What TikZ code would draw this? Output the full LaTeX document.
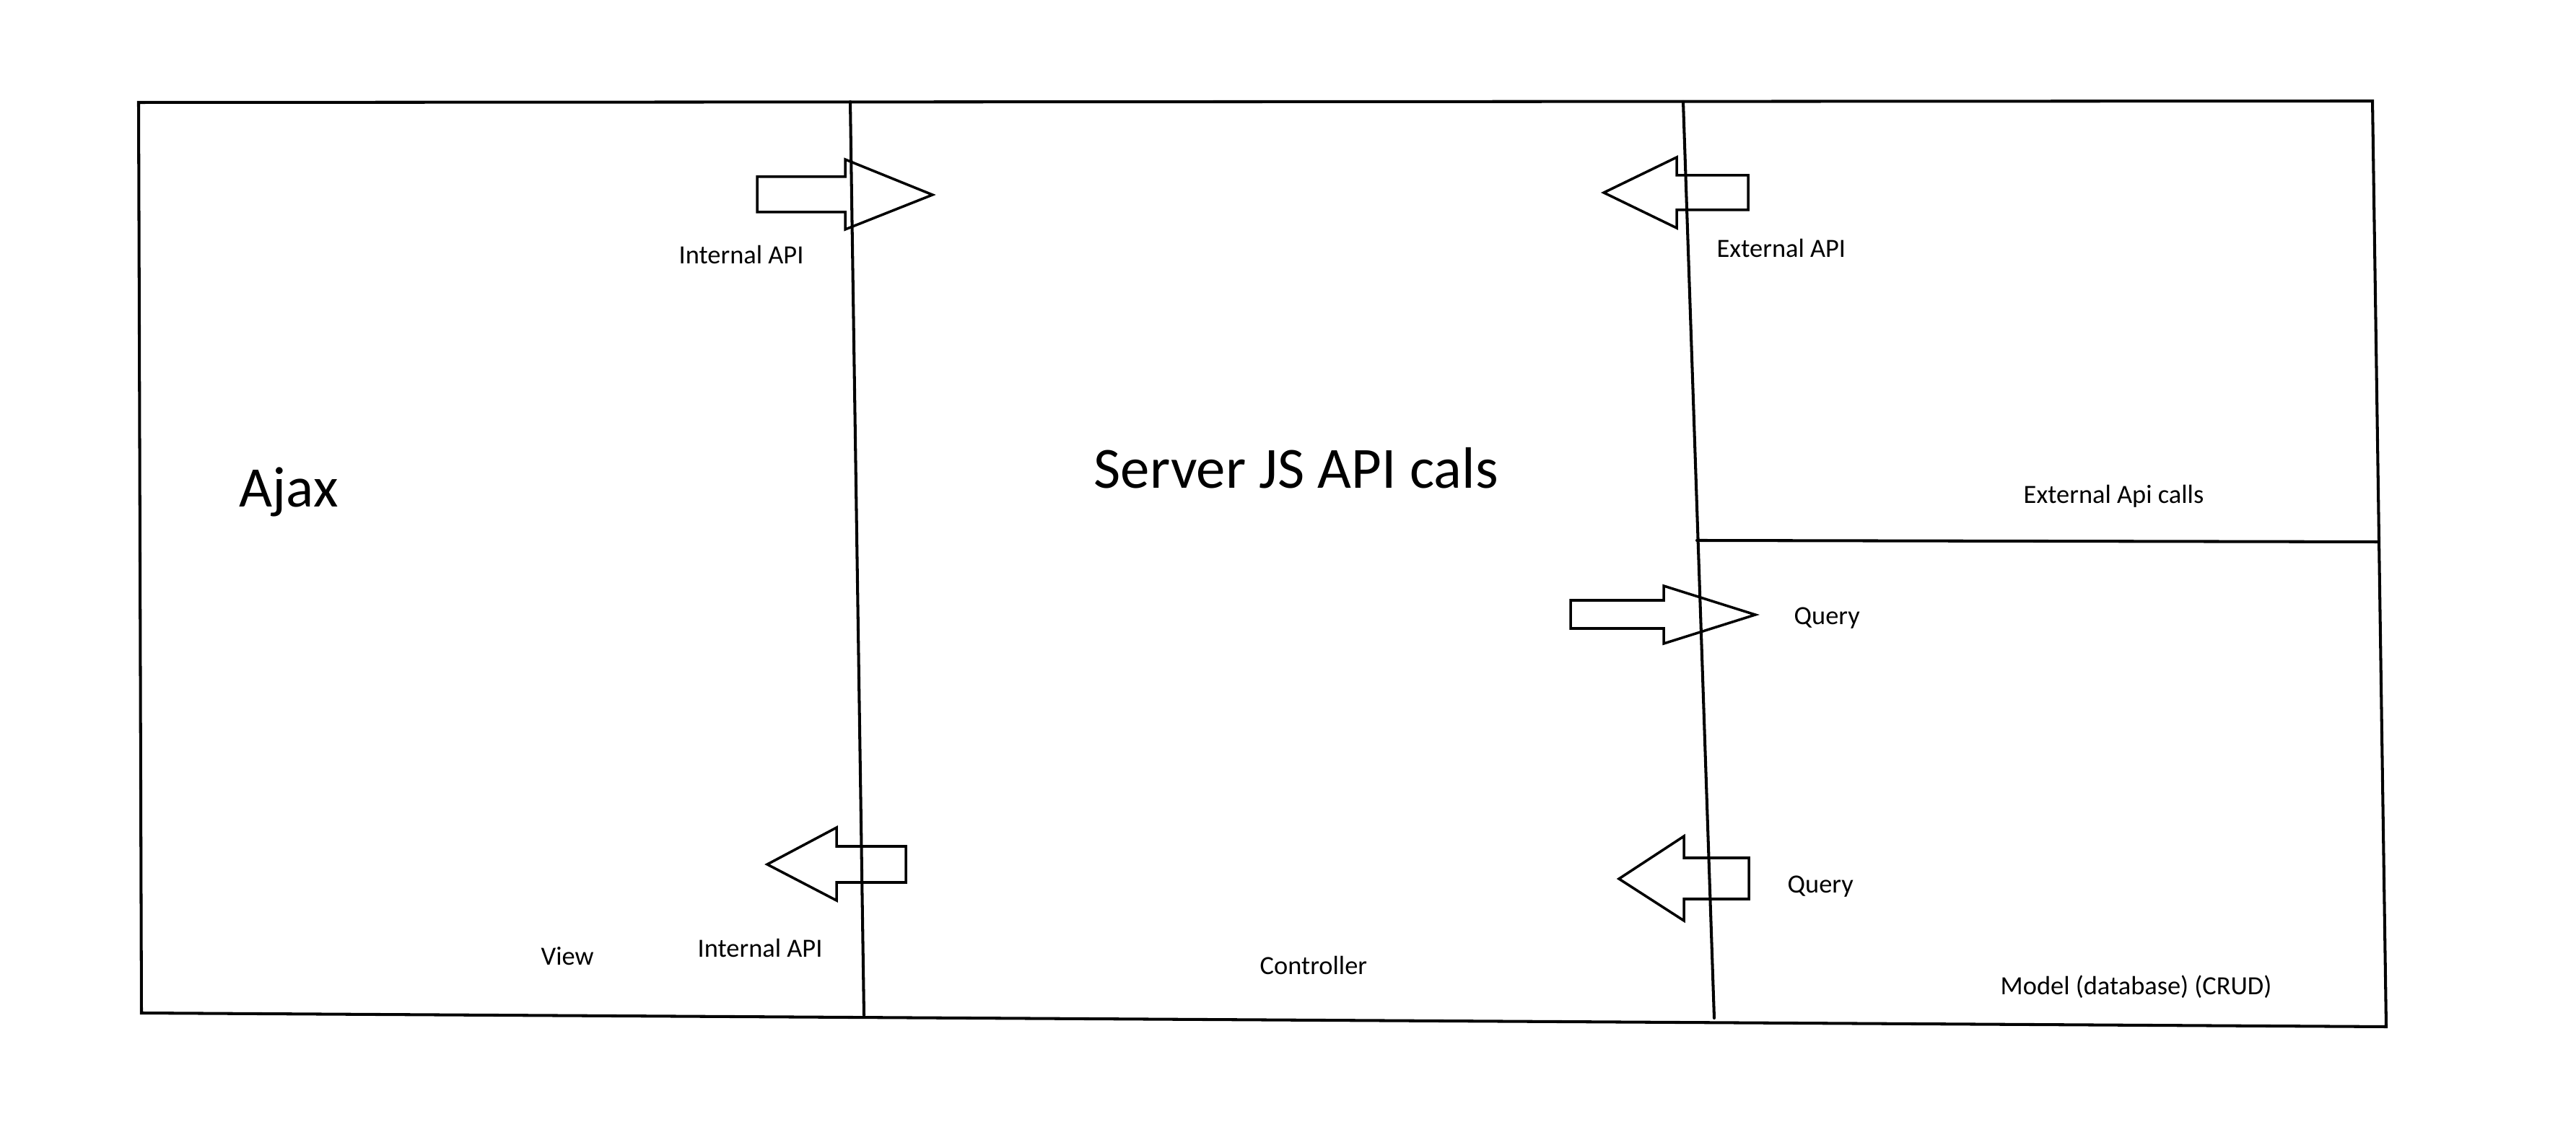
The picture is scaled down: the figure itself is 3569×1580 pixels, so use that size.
\documentclass[tikz,border=0pt]{standalone}
\usepackage{fontspec}
\setmainfont{Carlito}
\begin{document}
\begin{tikzpicture}[x=0.01cm,y=-0.01cm,
  frameline/.style={line width=1.15pt,line cap=round,line join=miter},
  blockarrow/.style={line width=1pt,line join=miter},
  lbl/.style={inner sep=0pt,anchor=base west,font=\fontsize{10.35}{12}\selectfont},
  bigA/.style={inner sep=0pt,anchor=base west,font=\fontsize{22.6}{26}\selectfont},
  bigS/.style={inner sep=0pt,anchor=base west,font=\fontsize{23}{27}\selectfont}]
\useasboundingbox (0,0) rectangle (3569,1580);
% frame
\draw[frameline] (192,142) -- (3287,140) -- (3306,1423) -- (196,1404) -- cycle;
% dividers
\draw[frameline] (1178,141) -- (1197,1407);
\draw[frameline] (2332,141) -- (2375,1411);
\draw[frameline] (2351,749) -- (3296,751);
% block arrows
\draw[blockarrow] (1049,245) -- (1171,245) -- (1171,221) -- (1292,270) -- (1171,318) -- (1171,294) -- (1049,294) -- cycle;
\draw[blockarrow] (2422,243) -- (2323,243) -- (2323,218) -- (2222,267) -- (2323,316) -- (2323,291) -- (2422,291) -- cycle;
\draw[blockarrow] (2176,832) -- (2305,832) -- (2305,812) -- (2432,852) -- (2305,892) -- (2305,871) -- (2176,871) -- cycle;
\draw[blockarrow] (1255,1173) -- (1159,1173) -- (1159,1147) -- (1063,1198) -- (1159,1248) -- (1159,1223) -- (1255,1223) -- cycle;
\draw[blockarrow] (2423,1189) -- (2333,1189) -- (2333,1159) -- (2243,1218) -- (2333,1276) -- (2333,1246) -- (2423,1246) -- cycle;
% labels
\node[lbl] (intapi1) at (940,366) {Internal API};
\node[lbl] (extapi) at (2378,357) {External API};
\node[bigA] (ajax) at (331,703) {Ajax};
\node[bigS] (server) at (1515,677) {Server JS API cals};
\node[lbl] (extcalls) at (2803,698) {External Api calls};
\node[lbl] (query1) at (2485,866) {Query};
\node[lbl] (query2) at (2476,1238) {Query};
\node[lbl] (view) at (749,1337) {View};
\node[lbl] (intapi2) at (966,1327) {Internal API};
\node[lbl] (controller) at (1745,1351) {Controller};
\node[lbl] (model) at (2771,1379) {Model (database) (CRUD)};
\end{tikzpicture}
\end{document}
